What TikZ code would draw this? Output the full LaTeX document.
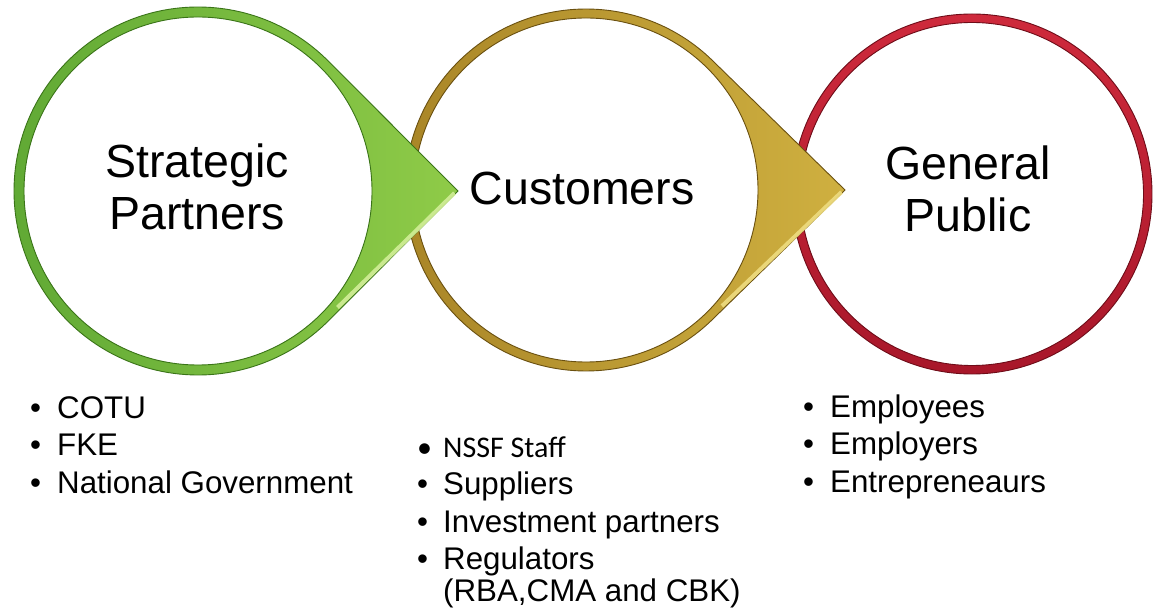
\documentclass[tikz,border=0pt]{standalone}
\usepackage{fontspec}
\setmainfont{Liberation Sans}
\newfontfamily\calibri{Carlito}
\definecolor{gEdge}{HTML}{3A7418}
\definecolor{gDark}{HTML}{5FA834}
\definecolor{gLight}{HTML}{8FCB48}
\definecolor{gHigh}{HTML}{D2EE98}
\definecolor{yEdge}{HTML}{6A5010}
\definecolor{yDark}{HTML}{A88426}
\definecolor{yLight}{HTML}{CFB040}
\definecolor{yHigh}{HTML}{EEDC80}
\definecolor{rEdge}{HTML}{6E0C18}
\definecolor{rDark}{HTML}{A8172A}
\definecolor{rLight}{HTML}{CE2A3C}
\begin{document}
\begin{tikzpicture}[x=1pt,y=1pt,
  title/.style={font=\fontsize{46.5}{52}\selectfont, inner sep=0pt, anchor=base},
  bullets/.style={font=\fontsize{31.3}{37.5}\selectfont, inner sep=0pt, anchor=base west},
  ringline/.style={even odd rule, line width=0.9pt},
  highlight/.style={line width=4pt, line cap=butt, opacity=0.9}
]
\useasboundingbox (0,0) rectangle (1153,-609);
\fill[white] (0,0) rectangle (1153,-609);

% red ring (General Public)
\begin{scope}[shift={(972,-194)}]
  \path[ringline, top color=rLight, bottom color=rDark, draw=rEdge]
    (0,0) circle[radius=180] (0,0) circle[radius=171.5];
\end{scope}

% gold ring with pointer (Customers)
\begin{scope}[shift={(586,-190)}]
  \path[ringline, left color=yDark, right color=yLight, draw=yEdge]
    (259,0) -- ({acos(181/259)}:181) arc[start angle={acos(181/259)}, end angle={360-acos(181/259)}, radius=181] -- cycle
    (0,0) circle[radius=172];
  \draw[highlight, yHigh] (255.5,-2) -- (136,-116);
\end{scope}

% green ring with pointer (Strategic Partners)
\begin{scope}[shift={(198,-191)}]
  \path[ringline, left color=gDark, right color=gLight, draw=gEdge]
    (260,0) -- ({acos(184/260)}:184) arc[start angle={acos(184/260)}, end angle={360-acos(184/260)}, radius=184] -- cycle
    (0,0) circle[radius=174];
  \draw[highlight, gHigh] (256.5,-2) -- (139.5,-116.5);
\end{scope}

% titles
\node[title] (sp) at (197,-178) {\renewcommand\arraystretch{1}\begin{tabular}[t]{@{}c@{}}Strategic\\Partners\end{tabular}};
\node[title] (cu) at (582,-205) {Customers};
\node[title] (gp) at (968,-180) {\renewcommand\arraystretch{1}\begin{tabular}[t]{@{}c@{}}General\\Public\end{tabular}};

% lists
\node[bullets] (l1) at (30,-418) {\begin{tabular}[t]{@{}l@{}}
\makebox[27pt][l]{•}COTU\\
\makebox[27pt][l]{•}FKE\\
\makebox[27pt][l]{•}National Government
\end{tabular}};

\node[bullets] (l2) at (417,-457) {\begin{tabular}[t]{@{}l@{}}
{\calibri\fontsize{30}{37.5}\selectfont\makebox[26pt][l]{•}NSSF Staff}\\
\makebox[26pt][l]{•}Suppliers\\
\makebox[26pt][l]{•}Investment partners\\
\makebox[26pt][l]{•}Regulators\\[-6pt]
\hspace*{26pt}(RBA,CMA and CBK)
\end{tabular}};

\node[bullets] (l3) at (803,-417) {\begin{tabular}[t]{@{}l@{}}
\makebox[27pt][l]{•}Employees\\
\makebox[27pt][l]{•}Employers\\
\makebox[27pt][l]{•}Entrepreneaurs
\end{tabular}};
\end{tikzpicture}
\end{document}
